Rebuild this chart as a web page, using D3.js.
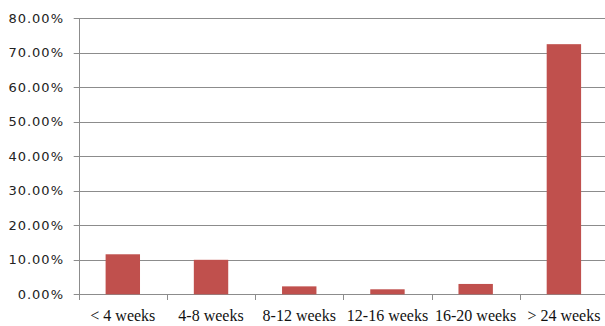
<!DOCTYPE html>
<html>
<head>
<meta charset="utf-8">
<script src="https://cdn.jsdelivr.net/npm/d3@7"></script>
<style>
  html, body { margin: 0; padding: 0; background: #fff; }
  svg { display: block; }
  .ylab text { font-family: "DejaVu Sans", sans-serif; font-size: 13px; letter-spacing: 1px; fill: #222; }
  .xlab text { font-family: "Liberation Serif", "Times New Roman", serif; font-size: 16px; fill: #111; }
</style>
</head>
<body>
<svg id="chart" width="605" height="326"></svg>
<script>
// Share of cases by duration
const categories = ["< 4 weeks", "4-8 weeks", "8-12 weeks", "12-16 weeks", "16-20 weeks", "> 24 weeks"];
const shares = [0.116, 0.100, 0.023, 0.0145, 0.030, 0.725];
const yTicks = [0, 0.1, 0.2, 0.3, 0.4, 0.5, 0.6, 0.7, 0.8];

const svg = d3.select("#chart");
const plotLeft = 78.7, plotRight = 608, plotTop = 18.3, plotBottom = 294.3;

const x = d3.scaleBand().domain(categories).range([plotLeft, plotRight]).paddingInner(0.61).paddingOuter(0.305);
const xTicks = d3.scaleBand().domain(categories).range([plotLeft, plotRight]);
const y = d3.scaleLinear().domain([0, 0.8]).range([plotBottom, plotTop]);

// horizontal gridlines (extend a few px left of the axis as tick marks)
svg.append("g").selectAll("line").data(yTicks).join("line")
  .attr("x1", plotLeft - 5).attr("x2", plotRight)
  .attr("y1", d => Math.round(y(d)) + 0.5).attr("y2", d => Math.round(y(d)) + 0.5)
  .attr("stroke", "#8c8c8c").attr("stroke-width", 1);

// y-axis line
svg.append("line")
  .attr("x1", Math.round(plotLeft) + 0.5).attr("x2", Math.round(plotLeft) + 0.5)
  .attr("y1", Math.round(plotTop)).attr("y2", Math.round(plotBottom) + 1)
  .attr("stroke", "#8c8c8c");

// category tick marks below the baseline
const bounds = categories.map(c => xTicks(c)).concat([plotRight]);
svg.append("g").selectAll("line").data(bounds).join("line")
  .attr("x1", d => Math.round(d) + 0.5).attr("x2", d => Math.round(d) + 0.5)
  .attr("y1", Math.round(plotBottom)).attr("y2", Math.round(plotBottom) + 6)
  .attr("stroke", "#8c8c8c");

// bars
svg.append("g").selectAll("rect").data(categories).join("rect")
  .attr("x", d => x(d))
  .attr("width", x.bandwidth())
  .attr("y", (d, i) => y(shares[i]))
  .attr("height", (d, i) => y(0) - y(shares[i]))
  .attr("fill", "#c0504d");

// y labels
svg.append("g").attr("class", "ylab").selectAll("text").data(yTicks).join("text")
  .attr("x", 64).attr("y", d => y(d)).attr("dy", "0.36em")
  .attr("text-anchor", "end")
  .text(d => d3.format(".2%")(d));

// x labels
svg.append("g").attr("class", "xlab").selectAll("text").data(categories).join("text")
  .attr("x", d => xTicks(d) + xTicks.bandwidth() / 2)
  .attr("y", 321)
  .attr("text-anchor", "middle")
  .text(d => d);
</script>
</body>
</html>
